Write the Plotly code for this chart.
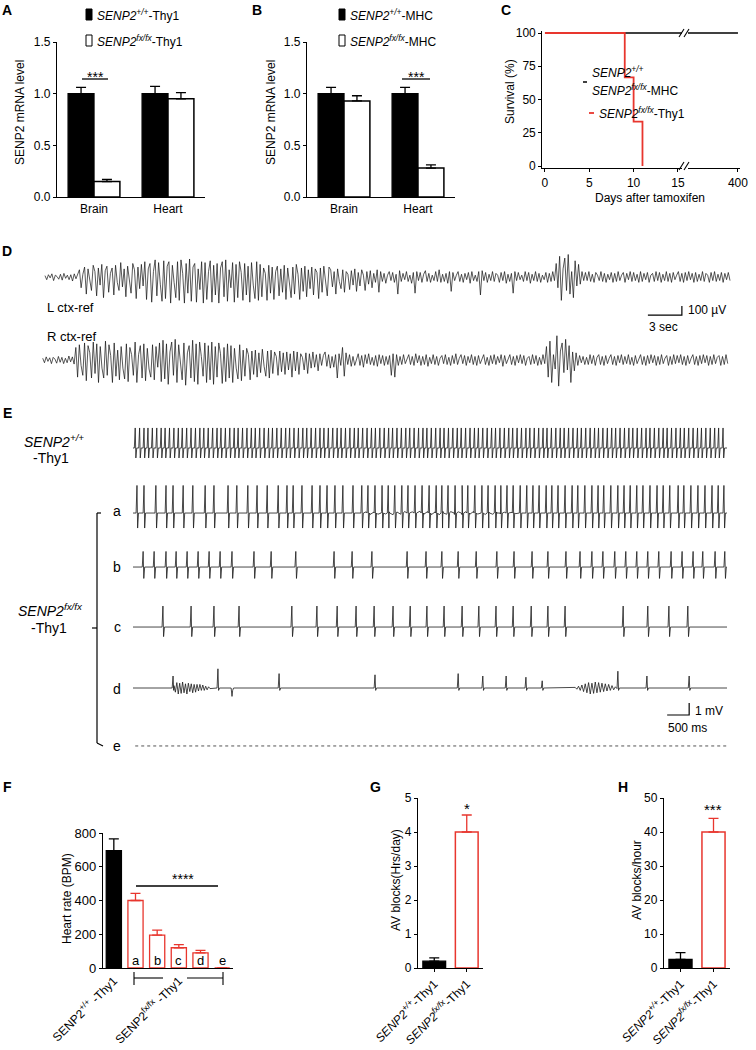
import plotly.graph_objects as go

W, H = 756, 1050
FONT = "Arial, 'Liberation Sans', Helvetica, sans-serif"
RED = "#e8362e"

# ---------------- DATA ----------------
# Panel A (Thy1) / B (MHC): SENP2 mRNA level
tissues = ["Brain", "Heart"]
a_wt = [1.00, 1.00]
a_wt_err = [0.06, 0.07]
a_ko = [0.15, 0.95]
a_ko_err = [0.02, 0.06]
b_wt = [1.00, 1.00]
b_wt_err = [0.06, 0.06]
b_ko = [0.93, 0.28]
b_ko_err = [0.05, 0.03]

# Panel C: survival
c_days_ctrl = [0, 400]
c_surv_ctrl = [100, 100]
c_days_thy1 = [0, 9, 10, 11]
c_surv_thy1 = [100, 66.7, 33.3, 0]
c_ticks = [0, 5, 10, 15, 400]

# Panel D: EEG (uV), 60.6 s record
eeg_duration = 60.6
eeg_left = [15,-30,25,-10,35,-40,20,5,-25,30,-35,40,-15,20,-30,25,-45,35,-20,40,
    80,-120,30,110,-190,90,-40,-150,130,60,-210,100,-90,140,-230,70,120,-170,40,100,-200,130,-60,-150,160,-110,90,-220,120,-40,-180,150,80,-240,110,-130,140,-100,
    170,-250,90,150,-280,60,190,-210,160,-80,-270,180,-240,120,170,-290,130,-60,-230,170,-260,190,40,-290,150,-180,200,-270,110,150,-280,90,-140,170,-290,160,-250,60,180,-280,130,-200,150,-290,100,170,-220,190,-270,80,-120,160,-280,140,-230,170,50,-260,150,-200,120,-280,160,-90,-240,170,-260,
    140,-220,100,40,-260,130,-180,110,-250,60,120,-210,90,-170,130,-250,100,-60,-230,110,-190,140,30,-250,100,-160,120,-220,80,-130,110,-200,90,50,-240,100,-170,120,-90,-210,110,
    80,-110,60,-190,90,-50,-130,80,-170,60,30,-140,70,-90,90,-160,50,-100,80,20,-150,60,-80,70,-120,40,-60,80,-170,
    60,-50,40,-70,20,60,-40,50,-60,30,-190,70,-50,40,-30,60,-50,20,-70,50,-180,60,-40,50,-60,30,70,-50,40,-60,20,-40,60,-50,80,-60,30,-50,40,-70,60,-160,50,-40,20,60,-50,30,-60,40,-30,50,-70,60,-40,20,-50,60,-200,70,-40,50,-60,30,-40,60,-50,40,20,-60,50,-40,60,-70,30,-50,40,-180,60,-40,50,-30,20,-50,60,-40,50,-70,30,-40,60,-50,40,-60,20,-30,50,-60,40,-50,60,-40,
    150,-120,230,-260,90,210,-150,250,-190,60,-230,180,-100,140,-80,60,-40,
    50,-40,60,-50,30,-60,50,20,-40,60,-50,40,-60,30,-30,50,-60,40,-50,60,-40,20,50,-60,40,-30,60,-50,50,-40,30,-60,60,-50,40,-30,50,-60,20,40,-50,60,-40,50,-60,30,-40,60,-50,40,-60,50,-30,20,60,-50,40,-60,50,-40,60,-30,40,-60,50,-50,30,-40,60,-50,40,20,-60,50,-40,60,-50,30,-40,50,-60,40,-30,50,-40]
eeg_right = [20,-30,35,-15,25,-40,30,10,-35,40,-25,30,-40,20,-30,45,-20,35,-45,
    140,-190,170,-60,-170,190,-230,160,80,-200,200,-150,180,-250,150,-90,-200,210,-170,170,50,-250,190,-180,110,-220,150,-90,-210,180,-240,140,60,-170,200,-250,60,160,-200,180,-230,130,-100,-190,170,-220,150,-80,190,-240,
    220,-210,180,-270,90,200,-170,230,-250,170,-60,-220,190,-280,80,160,-200,220,-240,180,-270,200,40,-180,190,-250,160,-220,200,-270,150,-190,190,70,-260,140,-240,180,-200,160,-250,130,-90,-210,170,-230,110,-180,130,60,-220,100,-160,110,-190,80,-140,120,-70,-180,100,-200,110,-150,90,40,-170,100,-130,80,-160,90,-110,70,-190,100,
    -120,90,-160,70,30,-110,80,-150,70,-90,90,-80,60,-120,70,-60,50,90,-70,60,-90,40,-80,60,-200,70,-60,140,-180,80,-50,60,-70,40,-60,20,70,-60,50,-80,60,-40,70,-50,30,-60,50,-70,60,-40,50,-60,40,
    -50,50,-170,70,-190,60,-60,40,-50,60,-40,20,60,-50,40,-60,70,-30,50,-60,40,-50,60,-70,30,-40,60,-50,40,-60,20,50,-40,60,-50,30,-60,50,-40,70,-50,20,60,-40,50,-60,40,-30,60,-50,40,-60,50,-40,20,60,-50,30,-60,50,-40,60,-50,40,-30,60,-70,50,-40,20,60,-50,40,-60,50,-30,60,-40,50,-60,20,40,-50,60,-40,50,-60,30,-50,60,-40,150,-190,210,-250,60,-100,
    270,-290,100,190,-140,230,-110,160,-250,90,-120,80,-60,50,-30,40,-50,30,
    -50,60,-40,50,-60,30,60,-50,40,-60,50,-40,20,60,-50,40,-60,50,-30,60,-50,40,-40,60,-50,30,-60,50,-40,20,60,-50,40,-60,50,-40,60,-30,50,-60,40,-50,60,-40,20,50,-60,40,-50,60,-40,50,-30,60,-50,40,-60,50,-40,20,60,-50,40,-60,50,-40,60,-30,50,-60,40,-50,60,-40,30,50,-60,40,-50,60,-40]

# Panel E: ECG beat times (s) and amplitudes (mV)
ecg_end = 13.5
ecg_wt_beats = [0.05,0.15,0.25,0.34,0.44,0.54,0.64,0.73,0.83,0.93,
    1.03,1.12,1.22,1.32,1.42,1.52,1.61,1.71,1.81,1.91,
    2.00,2.10,2.20,2.30,2.39,2.49,2.59,2.69,2.78,2.88,
    2.98,3.08,3.17,3.27,3.37,3.47,3.56,3.66,3.76,3.86,
    3.95,4.05,4.15,4.25,4.34,4.44,4.54,4.64,4.73,4.83,
    4.93,5.03,5.12,5.22,5.32,5.42,5.51,5.61,5.71,5.81,
    5.90,6.00,6.10,6.20,6.29,6.39,6.49,6.59,6.68,6.78,
    6.88,6.98,7.07,7.17,7.27,7.37,7.46,7.56,7.66,7.76,
    7.85,7.95,8.05,8.15,8.24,8.34,8.44,8.54,8.63,8.73,
    8.83,8.93,9.02,9.12,9.22,9.32,9.41,9.51,9.61,9.71,
    9.80,9.90,10.00,10.10,10.19,10.29,10.39,10.49,10.58,10.68,
    10.78,10.88,10.97,11.07,11.17,11.27,11.36,11.46,11.56,11.66,
    11.75,11.85,11.95,12.05,12.14,12.24,12.34,12.44,12.53,12.63,
    12.73,12.83,12.92,13.02,13.12,13.22,13.31,13.41]
ecg_a_beats = [0.09,0.25,0.52,0.75,0.91,1.14,1.36,1.64,1.84,2.16,2.36,2.61,2.82,3.05,3.30,
    3.50,3.64,3.84,4.07,4.25,4.41,4.59,4.77,5.00,5.20,5.34,5.50,5.66,5.80,5.95,6.11,6.25,
    6.41,6.57,6.73,6.89,7.02,7.16,7.32,7.48,7.61,7.77,7.93,8.07,8.23,8.36,8.50,8.64,8.80,
    8.95,9.09,9.23,9.39,9.52,9.66,9.82,9.98,10.11,10.27,10.43,10.57,10.70,10.86,11.02,11.16,
    11.30,11.45,11.59,11.75,11.91,12.05,12.20,12.39,12.52,12.68,12.84,13.00,13.16,13.30,13.43]
ecg_b_beats = [0.23,0.48,0.75,0.98,1.23,1.48,1.73,1.98,2.25,2.75,3.14,3.70,4.57,4.98,5.43,
    6.23,6.66,7.02,7.39,7.80,8.27,8.66,9.07,9.43,9.84,10.16,10.43,10.68,10.95,11.20,11.45,
    11.70,11.95,12.23,12.48,12.73,12.95,13.23,13.45]
ecg_c_beats = [0.68,1.32,1.84,2.41,3.61,4.18,4.64,5.07,5.48,5.91,6.30,6.68,7.07,7.48,7.86,
    8.25,8.64,9.05,9.43,9.82,11.14,11.70,12.18,12.61]
ecg_d_beats = [0.91,1.93,2.25,3.32,5.50,7.39,7.95,8.48,8.93,9.30,11.02,11.68,12.64]
ecg_d_amp = [1.0,1.6,-0.7,1.2,1.1,1.2,1.0,1.0,0.9,0.6,1.4,1.0,1.0]
ecg_a_noise = [0.1,-0.12,0.08,-0.1,0.12,-0.08,0.1,-0.14,0.09,-0.1,0.13,-0.09,0.1,-0.12,0.15,
    -0.1,0.12,-0.13,0.1,-0.15,0.14,-0.1,0.12,-0.12,0.1,-0.14,0.11,-0.1,0.13,-0.09,0.1,-0.12,
    0.08,-0.1,0.09,-0.08,0.07,-0.09,0.06,-0.05]
ecg_a_noise_span = [5.3, 8.7]
ecg_d_noise1 = [0.2,-0.35,0.45,-0.5,0.4,-0.45,0.5,-0.4,0.35,-0.5,0.4,-0.3,0.35,-0.4,0.3,
    -0.35,0.3,-0.25,0.3,-0.2,0.25,-0.2,0.15,-0.15,0.1,-0.05]
ecg_d_noise1_span = [0.93, 1.75]
ecg_d_noise2 = [0.05,-0.1,0.15,-0.2,0.25,-0.3,0.35,-0.4,0.45,-0.5,0.4,-0.45,0.5,-0.4,0.45,
    -0.35,0.4,-0.3,0.35,-0.25,0.3,-0.2,0.2,-0.15,0.1,-0.05]
ecg_d_noise2_span = [10.05, 11.0]
ecg_up = {"WT": 1.67, "a": 2.3, "b": 1.3, "c": 1.75}
ecg_down = {"WT": 0.83, "a": 1.25, "b": 0.95, "c": 0.8, "d": 0.2}

# Panel F: heart rate
f_groups = ["WT", "a", "b", "c", "d", "e"]
f_values = [695, 400, 195, 120, 90, 0]
f_err = [70, 42, 30, 18, 15, 0]
# Panel G / H
g_groups = ["WT", "KO"]
g_values = [0.2, 4.0]
g_err = [0.1, 0.5]
h_values = [2.5, 40]
h_err = [2.0, 4.0]

# ---------------- HELPERS ----------------
def fx(x): return x / W
def fy(y): return 1 - y / H
def domx(l, r): return [l / W, r / W]
def domy(top, bottom): return [1 - bottom / H, 1 - top / H]

shapes, anns = [], []

def seg(x0, y0, x1, y1, color="black", width=1.3):
    shapes.append(dict(type="line", xref="paper", yref="paper", x0=fx(x0), y0=fy(y0),
                       x1=fx(x1), y1=fy(y1), line=dict(color=color, width=width), layer="above"))

def rect(x0, y0, x1, y1, fill="white", line="white", width=0):
    shapes.append(dict(type="rect", xref="paper", yref="paper", x0=fx(x0), y0=fy(y0),
                       x1=fx(x1), y1=fy(y1), fillcolor=fill, line=dict(color=line, width=width), layer="above"))

def text(x, y, s, size=11, xanchor="center", angle=0, color="black"):
    anns.append(dict(x=fx(x), y=fy(y), xref="paper", yref="paper", text=s, showarrow=False,
                     xanchor=xanchor, yanchor="middle", textangle=angle,
                     font=dict(size=size, family=FONT, color=color)))

def tf(size):
    return dict(size=size, family=FONT, color="black")

def axis(**kw):
    d = dict(showline=True, linecolor="black", linewidth=1.3, ticks="outside", ticklen=3,
             tickwidth=1.2, tickcolor="black", showgrid=False, zeroline=False, automargin=False,
             tickfont=tf(11), fixedrange=True)
    d.update(kw)
    return d

def hidden(**kw):
    d = dict(visible=False, showgrid=False, zeroline=False, fixedrange=True, automargin=False)
    d.update(kw)
    return d

fig = go.Figure()

def err(arr, color):
    return dict(type="data", array=arr, arrayminus=[0] * len(arr), symmetric=False,
                color=color, thickness=1.3, width=5)

# ---------------- A & B ----------------
for (wt, we, ko, ke, ax) in [(a_wt, a_wt_err, a_ko, a_ko_err, ""), (b_wt, b_wt_err, b_ko, b_ko_err, "2")]:
    fig.add_trace(go.Bar(x=tissues, y=wt, error_y=err(we, "black"),
                         marker=dict(color="black", line=dict(color="black", width=1.3)),
                         xaxis="x" + ax, yaxis="y" + ax, showlegend=False))
    fig.add_trace(go.Bar(x=tissues, y=ko, error_y=err(ke, "black"),
                         marker=dict(color="white", line=dict(color="black", width=1.5)),
                         xaxis="x" + ax, yaxis="y" + ax, showlegend=False))

# ---------------- C ----------------
C_BREAK_UNITS = 6.77
def cpos(d):
    return d if d <= 15 else 15 + (d - 15) * C_BREAK_UNITS / (400 - 15)

fig.add_trace(go.Scatter(x=[cpos(d) for d in c_days_ctrl], y=c_surv_ctrl, mode="lines",
                         line=dict(color="black", width=1.3), xaxis="x3", yaxis="y3", showlegend=False))
fig.add_trace(go.Scatter(x=[cpos(d) for d in c_days_thy1], y=c_surv_thy1, mode="lines",
                         line=dict(color=RED, width=1.8, shape="hv"), xaxis="x3", yaxis="y3", showlegend=False))

# ---------------- D ----------------
L_OFF, R_OFF = 1256, 333
dt_l = eeg_duration / len(eeg_left)
dt_r = eeg_duration / len(eeg_right)
fig.add_trace(go.Scatter(x=[i * dt_l for i in range(len(eeg_left))], y=[v + L_OFF for v in eeg_left],
                         mode="lines", line=dict(color="#111111", width=0.7), xaxis="x4", yaxis="y4", showlegend=False))
fig.add_trace(go.Scatter(x=[i * dt_r - 0.2 for i in range(len(eeg_right))], y=[v + R_OFF for v in eeg_right],
                         mode="lines", line=dict(color="#111111", width=0.7), xaxis="x4", yaxis="y4", showlegend=False))
sb_t, sb_v = 53.2, 833
fig.add_trace(go.Scatter(x=[sb_t, sb_t + 3, sb_t + 3], y=[sb_v, sb_v, sb_v + 100], mode="lines",
                         line=dict(color="black", width=1.2), xaxis="x4", yaxis="y4", showlegend=False))

# ---------------- E ----------------
row_off = {"WT": 26.0, "a": 20.58, "b": 16.08, "c": 11.08, "d": 6.0, "e": 1.17}

def ecg_trace(beats, up, down, noises=()):
    pts = [(0.0, 0.0), (ecg_end, 0.0)]
    for i, t in enumerate(beats):
        u = up[i] if isinstance(up, list) else up
        pts += [(t - 0.02, 0.0), (t, u), (t + 0.015, -down), (t + 0.035, 0.0)]
    for vals, (s, e) in noises:
        n = len(vals)
        for k, v in enumerate(vals):
            pts.append((s + k * (e - s) / (n - 1), v))
    pts.sort(key=lambda p: p[0])
    return [p[0] for p in pts], [p[1] for p in pts]

ecg_beats = {"WT": ecg_wt_beats, "a": ecg_a_beats, "b": ecg_b_beats, "c": ecg_c_beats}
for r in ["WT", "a", "b", "c"]:
    noises = [(ecg_a_noise, ecg_a_noise_span)] if r == "a" else []
    xs, ys = ecg_trace(ecg_beats[r], ecg_up[r], ecg_down[r], noises)
    fig.add_trace(go.Scatter(x=xs, y=[v + row_off[r] for v in ys], mode="lines",
                             line=dict(color="#1a1a1a", width=0.8), xaxis="x5", yaxis="y5", showlegend=False))
xs, ys = ecg_trace(ecg_d_beats, ecg_d_amp, ecg_down["d"],
                   [(ecg_d_noise1, ecg_d_noise1_span), (ecg_d_noise2, ecg_d_noise2_span)])
fig.add_trace(go.Scatter(x=xs, y=[v + row_off["d"] for v in ys], mode="lines",
                         line=dict(color="#1a1a1a", width=0.8), xaxis="x5", yaxis="y5", showlegend=False))
fig.add_trace(go.Scatter(x=[0.05, ecg_end + 0.05], y=[row_off["e"], row_off["e"]], mode="lines",
                         line=dict(color="#555555", width=1, dash="dot"), xaxis="x5", yaxis="y5", showlegend=False))
eb_t, eb_v = 12.14, 3.75
fig.add_trace(go.Scatter(x=[eb_t, eb_t + 0.5, eb_t + 0.5], y=[eb_v, eb_v, eb_v + 1], mode="lines",
                         line=dict(color="black", width=1.2), xaxis="x5", yaxis="y5", showlegend=False))

# ---------------- F ----------------
fig.add_trace(go.Bar(x=f_groups[:1], y=f_values[:1], error_y=err(f_err[:1], "black"), offsetgroup="f",
                     marker=dict(color="black", line=dict(color="black", width=1.3)),
                     xaxis="x6", yaxis="y6", showlegend=False))
fig.add_trace(go.Bar(x=f_groups[1:], y=f_values[1:], error_y=err(f_err[1:], RED), offsetgroup="f",
                     marker=dict(color="white", line=dict(color=RED, width=1.3)),
                     xaxis="x6", yaxis="y6", showlegend=False))
for g in f_groups[1:]:
    anns.append(dict(x=g, y=45, xref="x6", yref="y6", text=g, showarrow=False, font=tf(13)))

# ---------------- G & H ----------------
for (vals, errs, ax) in [(g_values, g_err, "7"), (h_values, h_err, "8")]:
    fig.add_trace(go.Bar(x=g_groups[:1], y=vals[:1], error_y=err(errs[:1], "black"), offsetgroup="g",
                         marker=dict(color="black", line=dict(color="black", width=1.3)),
                         xaxis="x" + ax, yaxis="y" + ax, showlegend=False))
    fig.add_trace(go.Bar(x=g_groups[1:], y=vals[1:], error_y=err(errs[1:], RED), offsetgroup="g",
                         marker=dict(color="white", line=dict(color=RED, width=1.5)),
                         xaxis="x" + ax, yaxis="y" + ax, showlegend=False))

# ---------------- DECORATIONS ----------------
for L, x, y in [("A", 7, 10), ("B", 257, 10), ("C", 506, 10), ("D", 7, 251), ("E", 7, 413),
                ("F", 7, 787), ("G", 375, 787), ("H", 623, 787)]:
    text(x, y, "<b>%s</b>" % L, size=14)

for x0, l1, l2 in [(86, "<i>SENP2</i><sup><i>+/+</i></sup>-Thy1", "<i>SENP2</i><sup><i>fx/fx</i></sup>-Thy1"),
                   (339, "<i>SENP2</i><sup><i>+/+</i></sup>-MHC", "<i>SENP2</i><sup><i>fx/fx</i></sup>-MHC")]:
    rect(x0, 9, x0 + 6, 20, fill="black", line="black", width=1)
    text(x0 + 9, 15, l1, size=12, xanchor="left")
    rect(x0, 35, x0 + 6, 46, fill="white", line="black", width=1)
    text(x0 + 9, 41, l2, size=12, xanchor="left")
text(20, 113, "SENP2 mRNA level", size=12, angle=-90)
text(271, 113, "SENP2 mRNA level", size=12, angle=-90)
seg(82, 79, 108, 79)
text(95, 77, "***", size=14)
seg(402, 79, 430, 79)
text(416, 77, "***", size=14)

text(510, 92, "Survival (%)", size=12, angle=-90)
text(650, 198, "Days after tamoxifen", size=12)
for yb in (33, 166):
    rect(682, yb - 3, 688, yb + 3)
    seg(679, yb + 4, 684, yb - 4, width=1.1)
    seg(684, yb + 4, 689, yb - 4, width=1.1)
seg(583, 82, 587, 82, color="black", width=1.5)
text(590, 72, "<i>SENP2<sup>+/+</sup></i>", size=12, xanchor="left")
text(590, 90, "<i>SENP2<sup>fx/fx</sup></i>-MHC", size=12, xanchor="left")
seg(589, 113, 594, 113, color=RED, width=1.8)
text(597, 113, "<i>SENP2<sup>fx/fx</sup></i>-Thy1", size=12, xanchor="left")

text(45, 307, "L ctx-ref", size=13, xanchor="left")
text(45, 336, "R ctx-ref", size=13, xanchor="left")
text(686, 310, "100 µV", size=12, xanchor="left")
text(647, 327, "3 sec", size=12, xanchor="left")

text(54, 441, "<i>SENP2</i><sup><i>+/+</i></sup>", size=14)
text(51, 458, "-Thy1", size=14)
text(50, 610, "<i>SENP2</i><sup><i>fx/fx</i></sup>", size=14)
text(49, 628, "-Thy1", size=14)
for r, y in [("a", 511), ("b", 567), ("c", 627), ("d", 689), ("e", 746)]:
    text(117, y, r, size=14)
seg(97, 513, 97, 743, width=1.2)
seg(97, 513, 101, 513, width=1.2)
seg(97, 743, 103, 746, width=1.2)
seg(92, 628, 97, 628, width=1.2)
text(693, 711, "1 mV", size=12, xanchor="left")
text(666, 728, "500 ms", size=12, xanchor="left")

text(67, 899, "Heart rate (BPM)", size=12, angle=-90)
seg(136, 886, 218, 886)
text(183, 879, "****", size=14)
seg(134, 978, 163, 978, width=1.1)
seg(187, 978, 223, 978, width=1.1)
seg(134, 972, 134, 985, width=1.1)
seg(223, 972, 223, 985, width=1.1)
text(396, 880, "AV blocks(Hrs/day)", size=12, angle=-90)
text(467, 808, "*", size=15)
text(637, 880, "AV blocks/hour", size=12, angle=-90)
text(713, 809, "***", size=15)

# ---------------- LAYOUT ----------------
gh_ticks = ["<i>SENP2</i><sup><i>+/+</i></sup>-Thy1", "<i>SENP2</i><sup><i>fx/fx</i></sup>-Thy1"]
fig.update_layout(
    template="none",
    width=W, height=H, margin=dict(l=0, r=0, t=0, b=0, pad=0), autosize=False,
    paper_bgcolor="white", plot_bgcolor="rgba(0,0,0,0)",
    barmode="group", bargap=0.3, bargroupgap=0, showlegend=False,
    font=dict(family=FONT, color="black", size=11),
    shapes=shapes, annotations=anns,
    xaxis=axis(domain=domx(57, 205), anchor="y", type="category", ticks="", tickfont=tf(12)),
    yaxis=axis(domain=domy(42, 197), anchor="x", range=[0, 1.5], tickvals=[0, 0.5, 1, 1.5],
               ticktext=["0.0", "0.5", "1.0", "1.5"], tickfont=tf(12)),
    xaxis2=axis(domain=domx(307, 455), anchor="y2", type="category", ticks="", tickfont=tf(12)),
    yaxis2=axis(domain=domy(42, 197), anchor="x2", range=[0, 1.5], tickvals=[0, 0.5, 1, 1.5],
                ticktext=["0.0", "0.5", "1.0", "1.5"], tickfont=tf(12)),
    xaxis3=axis(domain=domx(542.3, 740), anchor="y3", range=[-0.3, 22],
                tickvals=[cpos(d) for d in c_ticks], ticktext=[str(d) for d in c_ticks], tickfont=tf(12)),
    yaxis3=axis(domain=domy(31, 168), anchor="x3", range=[-1.5, 101.5], tickvals=[0, 25, 50, 75, 100],
                tickfont=tf(12)),
    xaxis4=hidden(domain=[0, 1], anchor="y4", range=[-3.97, 62.74]),
    yaxis4=hidden(domain=domy(240, 390), anchor="x4", range=[0, 1667]),
    xaxis5=hidden(domain=[0, 1], anchor="y5", range=[-3.023, 14.159]),
    yaxis5=hidden(domain=domy(415, 760), anchor="x5", range=[0, 28.75]),
    xaxis6=axis(domain=domx(103, 233), anchor="y6", type="category", categoryorder="array",
                categoryarray=f_groups, ticks="", tickangle=-45, tickvals=["WT", "c"],
                ticktext=["SENP2<sup>+/+</sup> -Thy1", "SENP2<sup>fx/fx</sup> -Thy1"], tickfont=tf(12)),
    yaxis6=axis(domain=domy(833, 968), anchor="x6", range=[0, 800], tickvals=[0, 200, 400, 600, 800],
                tickfont=tf(13)),
    xaxis7=axis(domain=domx(418, 483), anchor="y7", type="category", categoryorder="array",
                categoryarray=g_groups, tickangle=-45, tickvals=g_groups, ticktext=gh_ticks, tickfont=tf(12)),
    yaxis7=axis(domain=domy(798, 968), anchor="x7", range=[0, 5], tickvals=[0, 1, 2, 3, 4, 5],
                tickfont=tf(12)),
    xaxis8=axis(domain=domx(664, 730), anchor="y8", type="category", categoryorder="array",
                categoryarray=g_groups, tickangle=-45, tickvals=g_groups, ticktext=gh_ticks, tickfont=tf(12)),
    yaxis8=axis(domain=domy(798, 968), anchor="x8", range=[0, 50], tickvals=[0, 10, 20, 30, 40, 50],
                tickfont=tf(12)),
)

fig.write_html("out.html", config={"displayModeBar": False},
               post_script="document.body.style.margin='0';document.body.style.overflow='hidden';")
